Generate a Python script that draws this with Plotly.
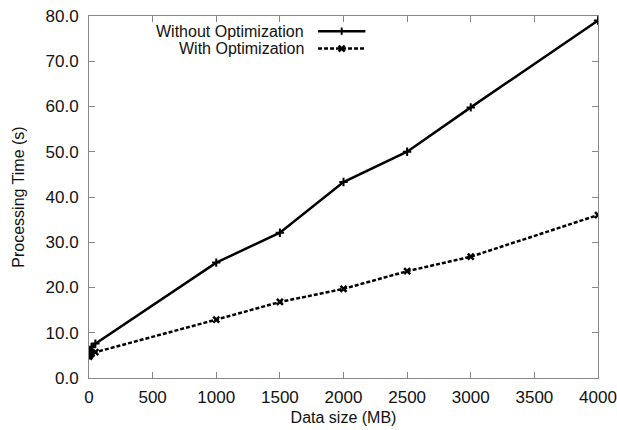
import plotly.graph_objects as go

data_size = [1, 5, 10, 20, 50, 1000, 1500, 2000, 2500, 3000, 4000]
without_opt = [5.0, 5.6, 6.2, 6.8, 7.6, 25.5, 32.1, 43.3, 50.0, 59.8, 79.0]
with_opt = [4.7, 5.0, 5.2, 5.4, 5.7, 12.9, 16.8, 19.7, 23.6, 26.8, 36.0]
series_names = ["Without Optimization", "With Optimization"]
x_ticks = [0, 500, 1000, 1500, 2000, 2500, 3000, 3500, 4000]
y_ticks = [0, 10, 20, 30, 40, 50, 60, 70, 80]

font = dict(family="Liberation Sans, Arial, sans-serif", size=17, color="#111")
title_font = dict(family="Liberation Sans, Arial, sans-serif", size=16, color="#111")
legend_font = dict(family="Liberation Sans, Arial, sans-serif", size=16, color="#111")

fig = go.Figure()
fig.add_trace(go.Scatter(
    x=data_size, y=without_opt, mode="lines+markers", name=series_names[0],
    line=dict(color="black", width=2.5),
    marker=dict(symbol="cross-thin", size=6, line=dict(color="black", width=2)),
    showlegend=False))
fig.add_trace(go.Scatter(
    x=data_size, y=with_opt, mode="lines+markers", name=series_names[1],
    line=dict(color="black", width=2.5, dash="4px,2px"),
    marker=dict(symbol="x-thin", size=6, line=dict(color="black", width=2.5)),
    showlegend=False))

axis_common = dict(showline=True, linecolor="#888", linewidth=1, mirror="ticks",
                   ticks="inside", ticklen=6, tickcolor="#888", showgrid=False,
                   zeroline=False, tickfont=font, automargin=False)
fig.update_xaxes(range=[0, 4000], tickvals=x_ticks, ticklabelstandoff=4,
                 title=dict(text="Data size (MB)", font=title_font, standoff=5),
                 **axis_common)
fig.update_yaxes(range=[0, 80], tickvals=y_ticks, tickformat=".1f", ticklabelstandoff=6,
                 title=dict(text="Processing Time (s)", font=title_font, standoff=16), **axis_common)

# Legend drawn gnuplot-style: text right-aligned, sample to the right
leg_x_text = 0.425   # paper fraction
leg_rows = [0.958, 0.91]
for name, yy in zip(series_names, leg_rows):
    fig.add_annotation(x=leg_x_text, y=yy, xref="paper", yref="paper", text=name,
                       showarrow=False, xanchor="right", yanchor="middle", font=legend_font,
                       borderpad=0)
x0, x1 = 0.45, 0.543
xm = (x0 + x1) / 2
fig.add_shape(type="line", xref="paper", yref="paper", x0=x0, x1=x1, y0=leg_rows[0], y1=leg_rows[0],
              line=dict(color="black", width=2.5))
fig.add_shape(type="line", xref="paper", yref="paper", x0=xm, x1=xm, y0=leg_rows[0] - 0.01, y1=leg_rows[0] + 0.01,
              line=dict(color="black", width=2))
fig.add_shape(type="line", xref="paper", yref="paper", x0=x0, x1=x1, y0=leg_rows[1], y1=leg_rows[1],
              line=dict(color="black", width=2.5, dash="4px,2px"))
for s in (-1, 1):
    fig.add_shape(type="line", xref="paper", yref="paper", x0=xm - 0.006, x1=xm + 0.006,
                  y0=leg_rows[1] - s * 0.008, y1=leg_rows[1] + s * 0.008,
                  line=dict(color="black", width=2.5))

fig.update_layout(width=617, height=430, margin=dict(l=89, r=19, t=16, b=52),
                  plot_bgcolor="white", paper_bgcolor="white", font=font)
fig.write_html("out.html")
